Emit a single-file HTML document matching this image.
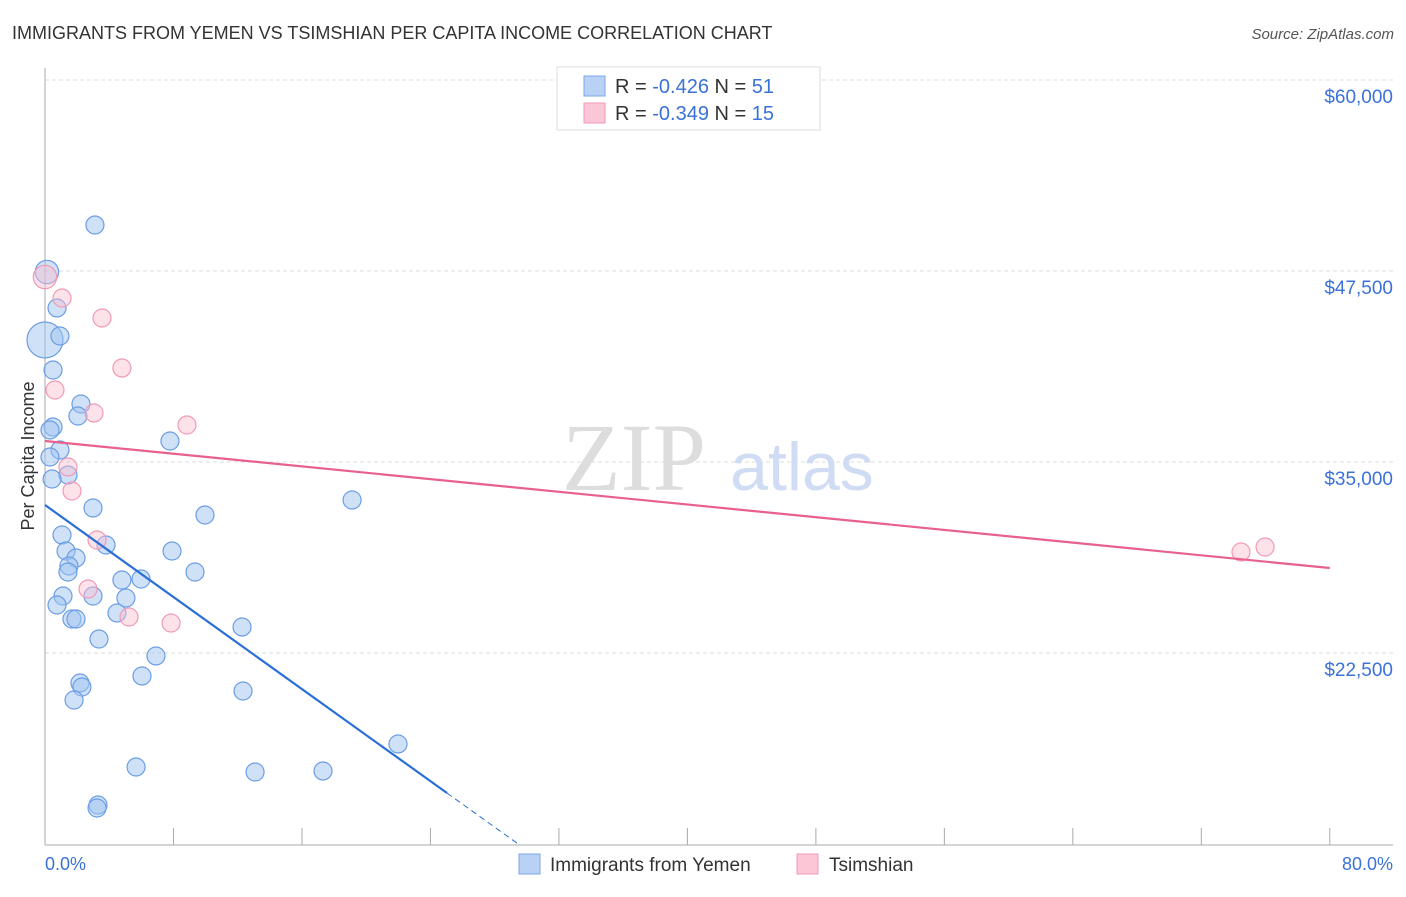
<!DOCTYPE html>
<html><head><meta charset="utf-8"><style>
body{margin:0;background:#fff;font-family:"Liberation Sans",sans-serif;}
svg text{font-family:"Liberation Sans",sans-serif;}
</style></head><body>
<svg id="chart" width="1406" height="892" xmlns="http://www.w3.org/2000/svg">
<text x="12" y="39" font-size="18" fill="#333">IMMIGRANTS FROM YEMEN VS TSIMSHIAN PER CAPITA INCOME CORRELATION CHART</text>
<text x="1394" y="39" font-size="15" fill="#555" font-style="italic" text-anchor="end">Source: ZipAtlas.com</text>
<g id="grid"></g>
<text x="634" y="490" font-size="96" fill="#ddd" font-family="Liberation Serif" text-anchor="middle" style="font-family:'Liberation Serif',serif">ZIP</text>
<text x="802" y="490" font-size="68" fill="#cfdcf3" text-anchor="middle">atlas</text>
<g id="points"></g>
<g id="lines"></g>
<text transform="translate(34,456) rotate(-90)" font-size="18" fill="#333" text-anchor="middle">Per Capita Income</text>
<text x="45" y="870" font-size="18" fill="#3a72d8">0.0%</text>
<text x="1393" y="870" font-size="18" fill="#3a72d8" text-anchor="end">80.0%</text>
<g>
<rect x="557" y="67" width="263" height="63" fill="#fff" stroke="#ddd"/>
<rect x="584" y="76" width="21" height="20" fill="#b9d1f5" stroke="#7ba6e8"/>
<rect x="584" y="103" width="21" height="20" fill="#fbc7d6" stroke="#f09ab4"/>
<text x="615" y="93" font-size="20" fill="#333">R = <tspan fill="#3a72d8">-0.426</tspan>   N = <tspan fill="#3a72d8">51</tspan></text>
<text x="615" y="120" font-size="20" fill="#333">R = <tspan fill="#3a72d8">-0.349</tspan>   N = <tspan fill="#3a72d8">15</tspan></text>
</g>
<g>
<rect x="519" y="854" width="21" height="20" fill="#b9d1f5" stroke="#7ba6e8"/>
<text x="550" y="871" font-size="19" fill="#333">Immigrants from Yemen</text>
<rect x="797" y="854" width="21" height="20" fill="#fbc7d6" stroke="#f09ab4"/>
<text x="829" y="871" font-size="19" fill="#333">Tsimshian</text>
</g>
</svg>
<script>
const yTicks=[60000,47500,35000,22500];
const yTickLabels=["$60,000","$47,500","$35,000","$22,500"];
const xTicks=[0,8,16,24,32,40,48,56,64,72,80];
const yemenX=[3.11,0.12,0.75,0,0.93,0.5,2.24,2.05,0.5,0.31,0.93,0.31,7.78,1.43,0.44,2.99,19.12,9.96,1.06,3.8,1.31,7.91,1.93,1.49,1.43,9.34,4.79,5.98,1.12,2.99,5.04,0.75,4.48,1.68,1.93,12.27,3.36,6.91,6.04,2.18,2.3,12.33,1.81,21.98,5.67,13.08,17.31,3.3,3.24];
const yemenY=[50510,47435,45079,42984,43246,41021,38796,38010,37291,37094,35785,35327,36374,34149,33887,31990,32513,31531,30223,29568,29175,29175,28717,28194,27801,27801,27277,27342,26230,26230,26099,25641,25118,24725,24725,24202,23416,22304,20995,20537,20275,20013,19424,16545,15039,14712,14778,12552,12356];
const yemenSize=[1,1.3,1,2,1,1,1,1,1,1,1,1,1,1,1,1,1,1,1,1,1,1,1,1,1,1,1,1,1,1,1,1,1,1,1,1,1,1,1,1,1,1,1,1,1,1,1,1,1];
const tsX=[0,1.06,3.55,4.79,0.62,3.05,8.84,1.43,1.68,3.24,2.68,5.23,7.85,74.47,75.97];
const tsY=[47107,45733,44424,41152,39712,38207,37421,34673,33102,29895,26688,24856,24463,29110,29437];
const tsSize=[1.3,1,1,1,1,1,1,1,1,1,1,1,1,1,1];
const yemenTrend=[32186,-753];
const tsTrend=[36374,-103.9];
const yemenSolidEnd=25.03, yemenDashEnd=29.58;

const X=v=>45+v*16.06;
const Y=v=>80+(60000-v)*191/12500;
const NS="http://www.w3.org/2000/svg";
function mk(tag,attrs,parent){const e=document.createElementNS(NS,tag);for(const k in attrs)e.setAttribute(k,attrs[k]);parent.appendChild(e);return e;}
const grid=document.getElementById('grid');
yTicks.forEach((t,i)=>{
  const l=mk('line',{x1:45,x2:1393,y1:Y(t),y2:Y(t),stroke:'#ddd','stroke-dasharray':'4,3'},grid);
  
  
  const tx=mk('text',{x:1393,y:Y(t)+23,'font-size':19,fill:'#3a72d8','text-anchor':'end'},grid);
  tx.textContent=yTickLabels[i];
  
  
});
const ax=mk('line',{x1:45,x2:45,y1:68,y2:845,stroke:'#aaa'},grid);


const bx=mk('line',{x1:45,x2:1393,y1:845,y2:845,stroke:'#aaa'},grid);


xTicks.forEach(t=>{
  const l=mk('line',{x1:X(t),x2:X(t),y1:828,y2:845,stroke:'#aaa'},grid);
  
  
});
const pts=document.getElementById('points');
yemenX.forEach((x,i)=>{
  const c=mk('circle',{cx:X(x),cy:Y(yemenY[i]),r:9*yemenSize[i],fill:'rgba(160,196,240,0.5)',stroke:'#6b9de6','stroke-width':1.2},pts);
  
  
});
tsX.forEach((x,i)=>{
  const c=mk('circle',{cx:X(x),cy:Y(tsY[i]),r:9*tsSize[i],fill:'rgba(250,190,208,0.45)',stroke:'#f09ab4','stroke-width':1.2},pts);
  
  
});
const lines=document.getElementById('lines');
const f=(tr,x)=>tr[0]+tr[1]*x;
const l1=mk('line',{x1:X(0),y1:Y(f(yemenTrend,0)),x2:X(yemenSolidEnd),y2:Y(f(yemenTrend,yemenSolidEnd)),stroke:'#2a6fd6','stroke-width':2.2},lines);


const l2=mk('line',{x1:X(yemenSolidEnd),y1:Y(f(yemenTrend,yemenSolidEnd)),x2:X(yemenDashEnd),y2:Y(f(yemenTrend,yemenDashEnd)),stroke:'#2a6fd6','stroke-width':1,'stroke-dasharray':'6,4'},lines);


const l3=mk('line',{x1:X(0),y1:Y(f(tsTrend,0)),x2:X(80),y2:Y(f(tsTrend,80)),stroke:'#e8608c','stroke-width':2.2},lines);


</script>
</body></html>
